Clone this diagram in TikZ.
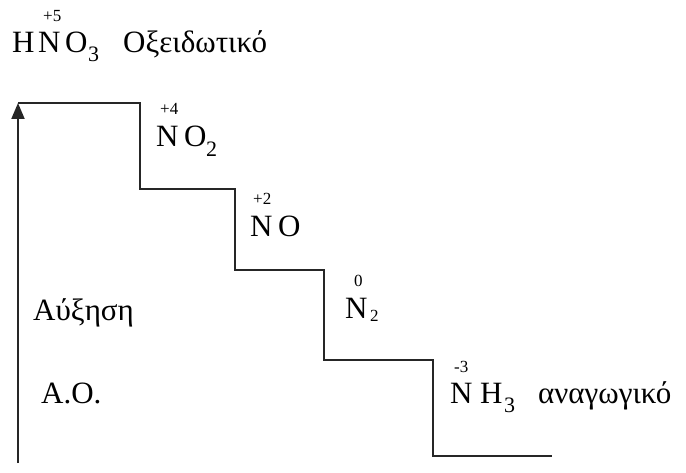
\documentclass[tikz,border=0pt]{standalone}
\usepackage{fontspec}
\setmainfont{Liberation Serif}
\usetikzlibrary{arrows.meta}
\begin{document}
\begin{tikzpicture}[x=1pt,y=1pt,
  big/.style={inner sep=0pt,anchor=base west,font=\fontsize{31}{37}\selectfont},
  sub/.style={inner sep=0pt,anchor=base west,font=\fontsize{22}{26}\selectfont},
  tiny/.style={inner sep=0pt,anchor=base west,font=\fontsize{17}{20}\selectfont},
  stair/.style={line width=2pt,draw=black!85}]
\useasboundingbox (0,0) rectangle (686,-473);
% staircase coordinates
\coordinate (b0) at (18,-463);
\coordinate (c0) at (18,-103);
\coordinate (c1) at (140,-103);
\coordinate (c2) at (140,-189);
\coordinate (c3) at (235,-189);
\coordinate (c4) at (235,-270);
\coordinate (c5) at (324,-270);
\coordinate (c6) at (324,-360);
\coordinate (c7) at (433,-360);
\coordinate (c8) at (433,-456);
\coordinate (c9) at (552,-456);
\draw[stair,-{Triangle[width=13pt,length=16pt]}] (b0) -- (c0);
\draw[stair] (c0) -- (c1) -- (c2) -- (c3) -- (c4) -- (c5) -- (c6) -- (c7) -- (c8) -- (c9);
% HNO3
\node[big] (h1) at (12,-53) {H};
\node[big] (h2) at (38,-53) {N};
\node[big] (h3) at (65,-53) {O};
\node[sub] (h4) at (88,-62) {3};
\node[tiny] (h5) at (43,-22) {+5};
\node[big] (h6) at (123,-53) {Οξειδωτικό};
% NO2
\node[big] (n1) at (156,-147) {N};
\node[big] (n2) at (184,-147) {O};
\node[sub] (n3) at (206,-157) {2};
\node[tiny] (n4) at (160,-115) {+4};
% NO
\node[big] (o1) at (250,-237) {N};
\node[big] (o2) at (278,-237) {O};
\node[tiny] (o3) at (253,-205) {+2};
% N2
\node[big] (m1) at (345,-319) {N};
\node[tiny] (m2) at (370,-322) {2};
\node[tiny] (m3) at (354,-287) {0};
% NH3
\node[big] (a1) at (450,-403) {N};
\node[big] (a2) at (480,-403) {H};
\node[sub] (a3) at (504,-412) {3};
\node[tiny] (a4) at (454,-372) {-3};
\node[big] (a5) at (538,-403) {αναγωγικό};
% left labels
\node[big] (l1) at (33,-320) {Αύξηση};
\node[big] (l2) at (41,-403) {Α.Ο.};
\end{tikzpicture}
\end{document}
